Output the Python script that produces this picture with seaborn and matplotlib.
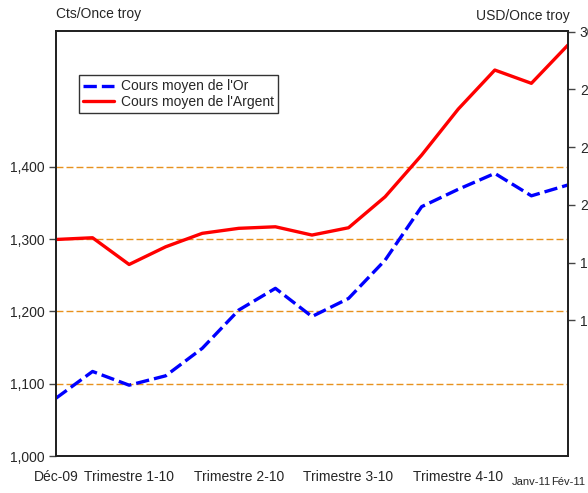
import numpy as np
import pandas as pd
import matplotlib
matplotlib.use("Agg")
import matplotlib.pyplot as plt
import seaborn as sns

# monthly points, Dec-09 .. Feb-11
months = ["Déc-09", "Janv-10", "Févr-10", "Mars-10", "Avr-10", "Mai-10", "Juin-10",
          "Juil-10", "Août-10", "Sept-10", "Oct-10", "Nov-10", "Déc-10", "Janv-11", "Fév-11"]
tick_labels = ["Déc-09", "", "Trimestre 1-10", "", "", "Trimestre 2-10", "", "",
               "Trimestre 3-10", "", "", "Trimestre 4-10", "", "Janv-11", "Fév-11"]
gold = [1080, 1117, 1098, 1111, 1149, 1202, 1232, 1193, 1218, 1271, 1345, 1369, 1391, 1360, 1375]
silver = [19.20, 19.29, 17.90, 18.82, 19.52, 19.78, 19.86, 19.43, 19.81, 21.42,
          23.59, 25.98, 28.01, 27.32, 29.31]
left_ticks = [1000, 1100, 1200, 1300, 1400]
right_ticks = [15, 18, 21, 24, 27, 30]

sns.set_style("white")
plt.rcParams["font.family"] = ["Liberation Sans", "DejaVu Sans"]

df = pd.DataFrame({"idx": np.arange(len(months)), "mois": months, "or": gold, "argent": silver})

fig = plt.figure(figsize=(5.88, 4.93), dpi=100)
ax = fig.add_axes([0.0952, 0.075, 0.8707, 0.8621])
ax2 = ax.twinx()

sns.lineplot(data=df, x="idx", y="or", ax=ax, color="#0000FF", lw=2.4,
             linestyle=(0, (4, 1.5)), label="Cours moyen de l'Or", legend=False)
sns.lineplot(data=df, x="idx", y="argent", ax=ax2, color="#FF0000", lw=2.4,
             label="Cours moyen de l'Argent", legend=False)

ax.set_xlim(0, len(months) - 1)
ax.set_ylim(1000, 1588)
ax2.set_ylim(7.94, 30.04)

ax.set_yticks(left_ticks)
ax.set_yticklabels([f"{v:,}" for v in left_ticks])
ax2.set_yticks(right_ticks)
ax2.set_yticklabels([str(v) for v in right_ticks])

ax.set_xticks(df["idx"])
ax.set_xticklabels(tick_labels)
ax.tick_params(axis="x", length=0, pad=10, labelsize=10)
for i in (13, 14):
    t = ax.xaxis.get_major_ticks()[i]
    t.label1.set_fontsize(8)
    t.set_pad(15)

ax.tick_params(axis="y", direction="out", length=5, width=1, color="#444444",
               pad=3, labelsize=10, left=True)
ax2.tick_params(axis="y", direction="out", length=5, width=1, color="#444444",
                pad=3.5, labelsize=10, right=True)

ax.set_xlabel("")
ax.set_ylabel("")
ax2.set_ylabel("")

ax.yaxis.grid(True, color="#E8921E", lw=1, linestyle=(0, (5, 2.2)))
ax.xaxis.grid(False)
ax2.grid(False)

for a in (ax, ax2):
    for s in a.spines.values():
        s.set_visible(True)
        s.set_color("#222222")
        s.set_linewidth(1.3)

fig.text(0.0952, 0.972, "Cts/Once troy", ha="left", va="center", fontsize=10)
fig.text(0.969, 0.968, "USD/Once troy", ha="right", va="center", fontsize=10)

h1, l1 = ax.get_legend_handles_labels()
h2, l2 = ax2.get_legend_handles_labels()
leg = ax2.legend(h1 + h2, l1 + l2, loc="upper left", bbox_to_anchor=(0.045, 0.896),
                 borderaxespad=0, fontsize=10, frameon=True, fancybox=False,
                 edgecolor="black", handlelength=2.2, labelspacing=0.1,
                 borderpad=0.3, handletextpad=0.5)
leg.get_frame().set_linewidth(1)

fig.savefig("out.png", dpi=100)
